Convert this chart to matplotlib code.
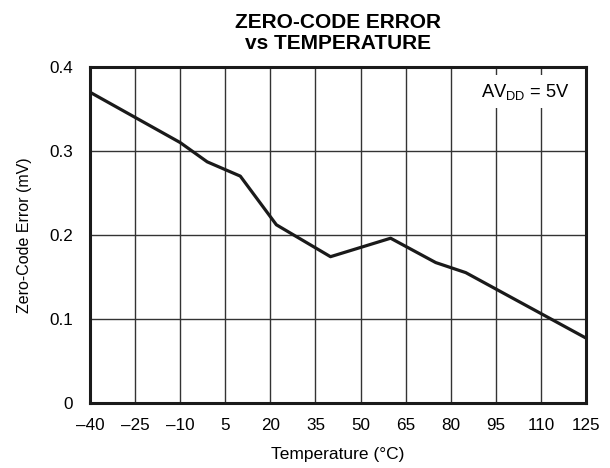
import matplotlib
matplotlib.use("Agg")
import matplotlib.pyplot as plt

plt.rcParams['font.family'] = ['Liberation Sans', 'DejaVu Sans']
plt.rcParams['mathtext.fontset'] = 'custom'
plt.rcParams['mathtext.rm'] = 'Liberation Sans'
plt.rcParams['mathtext.it'] = 'Liberation Sans'

temperature = [-40, -25, -10, -1, 10, 22, 40, 60, 75, 85, 125]
zero_code_error = [0.370, 0.340, 0.310, 0.287, 0.270, 0.212, 0.174, 0.196, 0.167, 0.155, 0.077]

x_ticks = [-40, -25, -10, 5, 20, 35, 50, 65, 80, 95, 110, 125]
x_tick_labels = ['–40', '–25', '–10', '5', '20', '35', '50', '65', '80', '95', '110', '125']
y_ticks = [0, 0.1, 0.2, 0.3, 0.4]
y_tick_labels = ['0', '0.1', '0.2', '0.3', '0.4']

fig = plt.figure(figsize=(6.10, 4.68), dpi=100)
ax = fig.add_axes([0.1475, 0.1395, 0.8132, 0.7173])

ax.plot(temperature, zero_code_error, color='#1a1a1a', lw=2.3, zorder=3)

ax.set_xlim(-40, 125)
ax.set_ylim(0, 0.4)
ax.set_xticks(x_ticks)
ax.set_xticklabels(x_tick_labels, fontsize=12.3)
ax.set_yticks(y_ticks)
ax.set_yticklabels(y_tick_labels, fontsize=12.3)
ax.tick_params(axis='x', length=0, pad=11)
ax.tick_params(axis='y', length=0, pad=12)
ax.grid(True, color='#333333', lw=1.0)
ax.set_axisbelow(True)
for s in ax.spines.values():
    s.set_linewidth(2.2)
    s.set_color('#1a1a1a')

ax.set_xlabel('Temperature (°C)', fontsize=12.5, labelpad=10)
ax.set_ylabel('Zero-Code Error (mV)', fontsize=11.5, labelpad=13)

ax.text(0.968, 0.927, r'AV$_{\mathregular{DD}}$ = 5V', transform=ax.transAxes,
        ha='right', va='center', fontsize=13.2, zorder=4,
        bbox=dict(facecolor='white', edgecolor='none', pad=5))

fig.text(0.554, 0.929, 'ZERO-CODE ERROR\nvs TEMPERATURE', ha='center', va='center',
         fontsize=15, fontweight='bold', linespacing=1.1)

fig.savefig('out.png', dpi=100)
